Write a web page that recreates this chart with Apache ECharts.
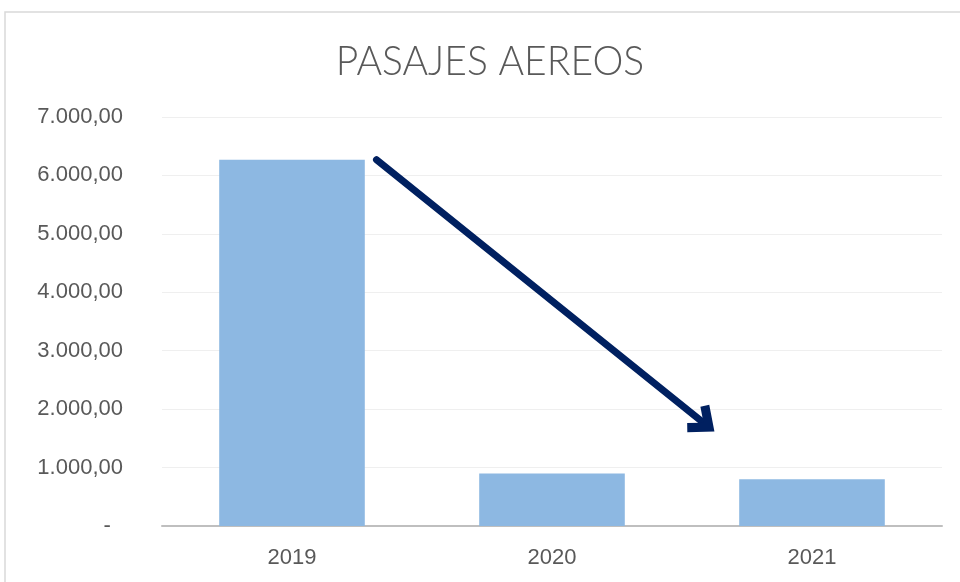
<!DOCTYPE html>
<html>
<head>
<meta charset="utf-8">
<script src="https://cdn.jsdelivr.net/npm/echarts@6/dist/echarts.min.js"></script>
<style>html,body{margin:0;padding:0;background:#fff}#c{width:960px;height:582px}</style>
</head>
<body>
<div id="c"></div>
<script>
const titleText = 'PASAJES AEREOS';
const categories = ['2019', '2020', '2021'];
const values = [6270, 900, 800];
const yTicks = { min: 0, max: 7000, interval: 1000 };
// arrow annotation in data coordinates (x: category position, y: value)
const arrowStart = [0.325, 6270];
const arrowEnd = [1.585, 1760];

function fmt(v) {
  if (v === 0) return '-  ';
  const s = Math.round(v).toString().replace(/\B(?=(\d{3})+(?!\d))/g, '.');
  return s + ',00';
}

const chart = echarts.init(document.getElementById('c'), null, { renderer: 'canvas' });
chart.setOption({
  backgroundColor: '#ffffff',
  animation: false,
  graphic: [{
    type: 'rect',
    shape: { x: 5, y: 12, width: 1000, height: 1000 },
    style: { fill: 'none', stroke: '#d9d9d9', lineWidth: 1.5 },
    silent: true,
    z: -10
  }, {
    type: 'text',
    x: 490,
    y: 61,
    scaleX: 0.93,
    silent: true,
    style: {
      text: titleText,
      fill: '#595959',
      font: '300 42px Lato, "Liberation Sans", sans-serif',
      textAlign: 'center',
      textVerticalAlign: 'middle'
    }
  }],
  grid: { left: 162, right: 18, top: 117, bottom: 56, containLabel: false },
  xAxis: [{
    type: 'category',
    data: categories,
    axisLine: { show: true, lineStyle: { color: '#bfbfbf', width: 2 } },
    axisTick: { show: false },
    axisLabel: {
      margin: 21,
      fontFamily: '"Liberation Sans", sans-serif',
      fontSize: 22,
      color: '#595959'
    }
  }, {
    type: 'value',
    min: -0.5,
    max: 2.5,
    show: false
  }],
  yAxis: {
    type: 'value',
    min: yTicks.min,
    max: yTicks.max,
    interval: yTicks.interval,
    axisLine: { show: false },
    axisTick: { show: false },
    splitLine: { lineStyle: { color: '#efefef', width: 1 } },
    axisLabel: {
      margin: 39,
      formatter: fmt,
      fontFamily: '"Liberation Sans", sans-serif',
      fontSize: 22,
      color: '#595959'
    }
  },
  series: [{
    type: 'bar',
    data: values,
    barWidth: '56%',
    itemStyle: { color: '#8db8e2' },
    silent: true
  }, {
    type: 'line',
    xAxisIndex: 1,
    data: [],
    symbol: 'none',
    silent: true,
    markLine: {
      silent: true,
      animation: false,
      symbol: ['none', 'path://M0,0 L-17.4,20.7 L-10.5,26.5 L0,14 L10.5,26.5 L17.4,20.7 Z'],
      symbolSize: [35, 26.5],
      label: { show: false },
      lineStyle: { color: '#002060', width: 7, type: 'solid', cap: 'round' },
      emphasis: { disabled: true },
      data: [[{ coord: arrowStart }, { coord: arrowEnd }]]
    }
  }]
});
</script>
</body>
</html>
